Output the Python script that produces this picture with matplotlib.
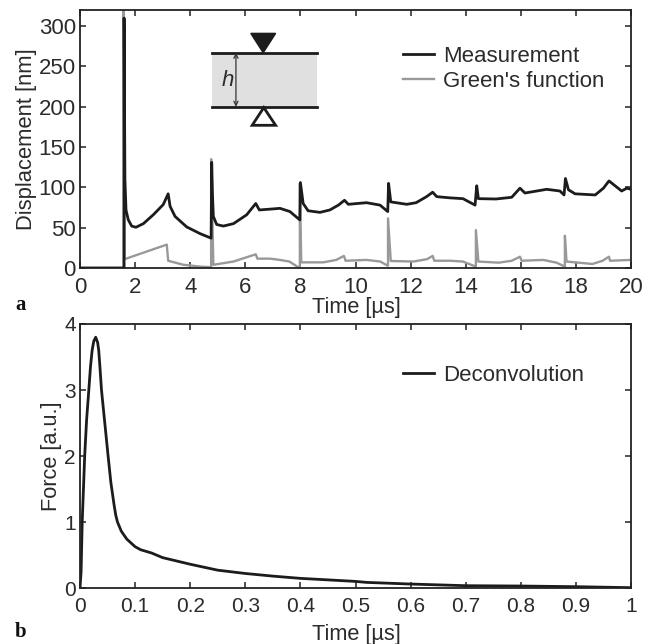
import matplotlib
matplotlib.use("Agg")
import matplotlib.pyplot as plt
from matplotlib.patches import Polygon, Rectangle

plt.rcParams['font.family'] = ['Liberation Sans', 'DejaVu Sans']

# panel a, measured displacement [nm]
meas_t = [0, 1.6, 1.6, 1.63, 1.67, 1.75, 1.875, 2.03, 2.3, 2.66, 3.02, 3.2, 3.27, 3.45, 3.87, 4.36,
          4.76, 4.78, 4.81, 4.84, 4.96, 5.2, 5.57, 6.05, 6.38, 6.51, 6.9, 7.26, 7.62, 7.98,
          8.0, 8.1, 8.28, 8.71, 9.07, 9.38, 9.6, 9.74, 10.4, 10.89, 11.17,
          11.2, 11.28, 11.86, 12.2, 12.58, 12.8, 12.95, 13.43, 13.9, 14.34,
          14.4, 14.46, 15.1, 15.67, 15.97, 16.15, 16.94, 17.42, 17.57,
          17.62, 17.73, 17.97, 18.7, 19.0, 19.2, 19.66, 19.85, 20]
meas_y = [0, 0, 310, 110, 72, 60, 52, 50.5, 55, 66, 78.6, 92, 76.5, 64, 51, 42.6,
          37, 131, 90, 64, 54, 52, 55, 66, 80, 72, 73, 74, 70, 59.6,
          106, 80, 71, 69, 72, 78, 84, 79, 81, 78, 70,
          105, 82, 79, 81, 88.5, 94, 88.5, 87, 86, 78,
          102, 86, 85.6, 87.7, 99, 93, 97.6, 95.5, 90.6,
          111, 97, 92, 90.6, 99, 108, 95.5, 99, 97.6]

# panel a, Green's function
green_t = [0, 1.58, 1.58, 1.62, 3.15, 3.2, 3.75, 4.36, 4.76, 4.76, 4.84, 5.57, 6.38, 6.44, 6.9, 7.26, 7.6,
           7.92, 7.98, 7.98, 8.03, 8.83, 9.3, 9.58, 9.64, 10.4, 10.9, 11.16, 11.18, 11.18, 11.28,
           12.1, 12.6, 12.8, 12.86, 13.43, 13.9, 14.27, 14.37, 14.37, 14.46, 15.2, 15.67, 15.97, 16.03,
           16.82, 17.3, 17.58, 17.6, 17.6, 17.66, 18.6, 18.97, 19.2, 19.24, 20]
green_y = [0, 0, 320, 11, 29, 9, 4, 1.7, 1, 135, 4, 8, 17, 11.6, 11.6, 10, 8,
           1, 1, 105, 7, 7, 10, 15, 9, 10, 8, 3, 3, 61.6, 8.7,
           8, 11, 15, 9, 9, 8, 3, 2, 47, 8, 6.6, 9, 14, 9,
           10, 6.6, 2, 2, 40, 8, 5, 9, 14, 9, 10]

# panel b, deconvolved force
force_t = [0, 0.002, 0.004, 0.0085, 0.012, 0.016, 0.019, 0.022, 0.025, 0.0285, 0.032, 0.034, 0.036, 0.039,
           0.045, 0.051, 0.056, 0.062, 0.065,
           0.068, 0.075, 0.085, 0.1, 0.11, 0.13, 0.15, 0.18, 0.2, 0.25, 0.3,
           0.35, 0.4, 0.5, 0.52, 0.6, 0.7, 0.8, 0.9, 1.0]
force_y = [0, 0.25, 1.0, 2.0, 2.55, 3.0, 3.35, 3.6, 3.74, 3.8, 3.72, 3.6, 3.37, 3.0,
           2.5, 2.0, 1.6, 1.25, 1.1,
           1.0, 0.86, 0.74, 0.626, 0.58, 0.53, 0.46, 0.4, 0.36, 0.27, 0.22,
           0.18, 0.146, 0.1, 0.085, 0.06, 0.035, 0.03, 0.02, 0.005]

ticks_a_x = list(range(0, 21, 2))
ticks_a_y = [0, 50, 100, 150, 200, 250, 300]
ticks_b_x = [0, 0.1, 0.2, 0.3, 0.4, 0.5, 0.6, 0.7, 0.8, 0.9, 1]
ticks_b_y = [0, 1, 2, 3, 4]

TXT = '#2b2b2b'
W, H = 653, 644


def make_axes(fig, left, top, right, bottom):
    ax = fig.add_axes([left / W, 1 - bottom / H, (right - left) / W, (bottom - top) / H])
    for s in ax.spines.values():
        s.set_linewidth(1.3)
        s.set_color('#222222')
    ax.tick_params(direction='in', top=True, right=True, length=4.3, width=1.1, color='#222222',
                   labelcolor=TXT, labelsize=15, pad=3)
    ax.tick_params(axis='x', pad=6.5)
    return ax


fig = plt.figure(figsize=(6.53, 6.44), dpi=100)

# panel a
ax1 = make_axes(fig, 80, 10, 631, 268)
ax1.plot(green_t, green_y, color='#999999', lw=1.7, label="Green's function", zorder=2)
ax1.plot(meas_t, meas_y, color='#1c1c1c', lw=2, label='Measurement', zorder=3)
ax1.set_xlim(0, 20)
ax1.set_ylim(0, 320)
ax1.set_xticks(ticks_a_x)
ax1.set_yticks(ticks_a_y)
ax1.tick_params(labelsize=16)
ax1.set_ylabel('Displacement [nm]', fontsize=15.8, color=TXT)
ax1.yaxis.set_label_coords((37 - 80) / 551, 0.5)
ax1.set_xlabel('Time [µs]', fontsize=15.7, color=TXT)
ax1.xaxis.set_label_coords((356 - 80) / 551, -29 / 258)
handles, labels = ax1.get_legend_handles_labels()
ax1.legend(handles[::-1], labels[::-1], loc='upper left', bbox_to_anchor=(0.586, 0.86), frameon=False,
           fontsize=16, labelcolor=TXT, handlelength=1.4, handletextpad=0.4, labelspacing=0.18,
           borderpad=0, borderaxespad=0)

# little schematic of the plate
ax1.add_patch(Rectangle((4.8, 200), 3.8, 67, fc='#e0e0e0', ec='none', zorder=1))
ax1.plot([4.8, 8.6], [267, 267], color='#1c1c1c', lw=2, zorder=3)
ax1.plot([4.8, 8.6], [200, 200], color='#1c1c1c', lw=2, zorder=3)
ax1.add_patch(Polygon([[6.2, 291], [7.1, 291], [6.65, 267]], fc='#1c1c1c', ec='#1c1c1c', zorder=3))
ax1.add_patch(Polygon([[6.25, 177], [7.1, 177], [6.67, 199]], fc='white', ec='#1c1c1c', lw=2, zorder=3))
ax1.annotate('', xy=(5.66, 267), xytext=(5.66, 200),
             arrowprops=dict(arrowstyle='<->,head_length=0.3,head_width=0.15', color='#333333', lw=0.9,
                             shrinkA=0, shrinkB=0), zorder=3)
ax1.text(5.35, 233, 'h', style='italic', fontsize=16, color=TXT, ha='center', va='center')

# panel b
ax2 = make_axes(fig, 80, 324, 631, 588)
ax2.plot(force_t, force_y, color='#1c1c1c', lw=2, label='Deconvolution')
ax2.set_xlim(0, 1)
ax2.set_ylim(0, 4)
ax2.set_xticks(ticks_b_x)
ax2.set_xticklabels(['0', '0.1', '0.2', '0.3', '0.4', '0.5', '0.6', '0.7', '0.8', '0.9', '1'])
ax2.set_yticks(ticks_b_y)
ax2.set_ylabel('Force [a.u.]', fontsize=15.7, color=TXT)
ax2.yaxis.set_label_coords((62 - 80) / 551, 0.5)
ax2.set_xlabel('Time [µs]', fontsize=15.7, color=TXT)
ax2.xaxis.set_label_coords((356 - 80) / 551, -36 / 264)
ax2.legend(loc='upper left', bbox_to_anchor=(0.586, 0.845), frameon=False, fontsize=16, labelcolor=TXT,
           handlelength=1.4, handletextpad=0.4, borderpad=0, borderaxespad=0)

# panel letters
fig.text(21 / W, 1 - 305 / H, 'a', family='Liberation Serif', weight='bold', fontsize=15, ha='center', va='center', color='#111111')
fig.text(21 / W, 1 - 632 / H, 'b', family='Liberation Serif', weight='bold', fontsize=15, ha='center', va='center', color='#111111')

fig.savefig('out.png', dpi=100)
